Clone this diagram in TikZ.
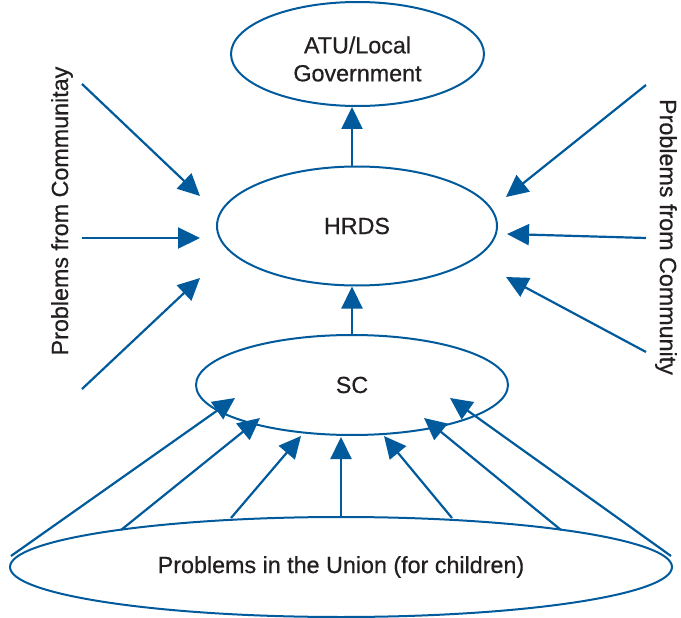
\documentclass[tikz,border=0pt]{standalone}
\usepackage{fontspec}
\setmainfont{Liberation Sans}[FakeBold=0.6]
\usetikzlibrary{arrows.meta,shapes.geometric}
\definecolor{diagblue}{RGB}{0,90,156}
\definecolor{txt}{RGB}{35,31,32}
\begin{document}
\begin{tikzpicture}[x=1pt,y=-1pt,
  oval/.style={ellipse,draw=diagblue,line width=2pt,inner sep=0pt,text=txt,
    font=\fontsize{23.3}{28}\selectfont,align=center},
  arr/.style={draw=diagblue,line width=2.2pt,-{Triangle[length=22pt,width=21pt]}},
  sidelabel/.style={text=txt,font=\fontsize{23.3}{26}\selectfont}]
\useasboundingbox (0,0) rectangle (681,618);
% nodes
\node[oval,minimum width=253pt,minimum height=104pt] (atu) at (357.5,54) {};
\node[text=txt,font=\fontsize{23.3}{28}\selectfont,align=center] (atutext) at (357.5,59) {ATU/Local\\Government};
\node[oval,minimum width=280pt,minimum height=119pt] (hrds) at (357,226) {HRDS};
\node[oval,minimum width=312pt,minimum height=100pt] (sc) at (352,385) {SC};
\node[oval,minimum width=662pt,minimum height=100pt] (union) at (341,567) {Problems in the Union (for children)};
\node[sidelabel,rotate=90] (lcomm) at (62,211) {Problems from Communitay};
\node[sidelabel,rotate=-90] (rcomm) at (666,237) {Problems from Community};
% vertical arrows
\coordinate (ax) at (352,0);
\draw[arr] (hrds.north -| ax) -- (atu.south -| ax);
\draw[arr] (sc.north -| ax) -- (hrds.south -| ax);
% left arrows
\coordinate (l1s) at (82,84);  \coordinate (l1t) at (200,196);
\coordinate (l2s) at (82,238); \coordinate (l2t) at (200,238);
\coordinate (l3s) at (82,389); \coordinate (l3t) at (200,278);
\draw[arr] (l1s) -- (l1t);
\draw[arr] (l2s) -- (l2t);
\draw[arr] (l3s) -- (l3t);
% right arrows
\coordinate (r1s) at (646,85);  \coordinate (r1t) at (506,197);
\coordinate (r2s) at (646,238); \coordinate (r2t) at (507,234);
\coordinate (r3s) at (646,352); \coordinate (r3t) at (506,277);
\draw[arr] (r1s) -- (r1t);
\draw[arr] (r2s) -- (r2t);
\draw[arr] (r3s) -- (r3t);
% union to SC arrows
\coordinate (u1) at (11,556);  \coordinate (t1) at (235,398);
\coordinate (u2) at (121,530); \coordinate (t2) at (260,418);
\coordinate (u3) at (231,518); \coordinate (t3) at (301,436);
\coordinate (u4) at (341,517); \coordinate (t4) at (341,437);
\coordinate (u5) at (452,518); \coordinate (t5) at (384,436);
\coordinate (u6) at (561,530); \coordinate (t6) at (424,418);
\coordinate (u7) at (671,556); \coordinate (t7) at (450,398);
\foreach \i in {1,...,7} {\draw[arr] (u\i) -- (t\i);}
\end{tikzpicture}
\end{document}
